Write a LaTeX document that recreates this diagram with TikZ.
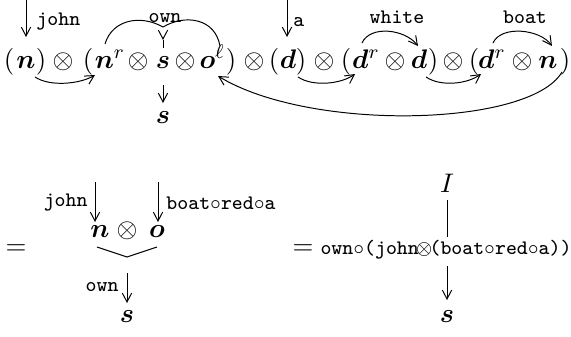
\documentclass[tikz,border=0pt]{standalone}
\usepackage{amsmath,amssymb,bm}
\usepackage{mathtools}
\usepackage{fontspec}
\usetikzlibrary{arrows.meta,calc}
\newcommand\mycirc{\makebox[0.525em]{$\circ$}}
\newcommand\myotimes{\makebox[0.525em]{$\otimes$}}
\tikzset{
  sym/.style={inner sep=0pt, anchor=base, font=\fontsize{11}{13}\selectfont},
  lbl/.style={font=\fontsize{8.4}{10}\ttfamily, inner sep=0pt},
  tip/.style={-{Straight Barb[length=3.6pt,width=3.8pt]}},
}
\begin{document}
\begin{tikzpicture}[x=0.408pt,y=-0.408pt,line width=0.4pt]
\useasboundingbox (0,0) rectangle (571,336);
% ---------- top row ----------
\node[sym] (lp1) at (9,68) {$($};
\node[sym] (n1) at (26,68) {$\boldsymbol{n}$};
\node[sym] (rp1) at (41,68) {$)$};
\node[sym] (ot1) at (63,68) {$\otimes$};
\node[sym] (lp2) at (88,68) {$($};
\node[sym] (nr) at (105,68) {$\boldsymbol{n}^{\mathrlap{r}}$};
\node[sym] (ot2) at (138,68) {$\otimes$};
\node[sym] (s1) at (163,68) {$\boldsymbol{s}$};
\node[sym] (ot3) at (185,68) {$\otimes$};
\node[sym] (ol) at (208,68) {$\boldsymbol{o}^{\mathrlap{\ell}}$};
\node[sym] (rp2) at (231,68) {$)$};
\node[sym] (ot4) at (254,68) {$\otimes$};
\node[sym] (lp3) at (274,68) {$($};
\node[sym] (d1) at (288,68) {$\boldsymbol{d}$};
\node[sym] (rp3) at (301,68) {$)$};
\node[sym] (ot5) at (324,68) {$\otimes$};
\node[sym] (lp4) at (346,68) {$($};
\node[sym] (dr1) at (361,68) {$\boldsymbol{d}^{\mathrlap{r}}$};
\node[sym] (ot6) at (395,68) {$\otimes$};
\node[sym] (d2) at (419,68) {$\boldsymbol{d}$};
\node[sym] (rp4) at (433,68) {$)$};
\node[sym] (ot7) at (453,68) {$\otimes$};
\node[sym] (lp5) at (474,68) {$($};
\node[sym] (dr2) at (487,68) {$\boldsymbol{d}^{\mathrlap{r}}$};
\node[sym] (ot8) at (522,68) {$\otimes$};
\node[sym] (n2) at (548,68) {$\boldsymbol{n}$};
\node[sym] (rp5) at (565,68) {$)$};
% word inputs
\coordinate (johntop) at (26,0);
\coordinate (johnend) at (26,37);
\draw[tip] (johntop) -- (johnend);
\node[lbl, anchor=west] (johnlbl) at (36,22) {john};
\coordinate (atop) at (287,0);
\coordinate (aend) at (287,37);
\draw[tip] (atop) -- (aend);
\node[lbl, anchor=west] (albl) at (293,22) {a};
% own
\node[lbl] (ownlbl) at (165,18) {own};
\coordinate (ownjoin) at (163,27);
\coordinate (owntipA) at (163,37);
\coordinate (owntipB) at (163,40);
\coordinate (ownstem) at (163,48);
\draw (105,44) .. controls (112,20) and (140,14) .. (ownjoin);
\draw (220,46) .. controls (215,18) and (185,14) .. (ownjoin);
\draw[tip] (owntipA) -- (owntipB);
\draw (owntipB) -- (ownstem);
% s output
\coordinate (sout) at (163,85);
\node[sym] (s2) at (163,123) {$\boldsymbol{s}$};
\draw[tip] (sout) -- (163,103);
% white / boat
\node[lbl] (whitelbl) at (397,17) {white};
\node[lbl] (boatlbl) at (525,17) {boat};
\draw[tip] (362,43) .. controls (370,25) and (405,29) .. (418,46);
\draw[tip] (493,43) .. controls (501,25) and (540,29) .. (552,46);
% cups below
\draw[tip] (35,77) .. controls (50,87) and (80,84) .. (95,75);
\draw[tip] (298,77) .. controls (313,87) and (341,84) .. (355,74);
\draw[tip] (426,77) .. controls (441,87) and (467,84) .. (481,74);
\draw[tip] (562,72) .. controls (530,127) and (310,132) .. (218,76);
% ---------- bottom left ----------
\node[sym] (eq1) at (16,254) {$=$};
\node[sym] (n3) at (100,237) {$\boldsymbol{n}$};
\node[sym] (ot9) at (127,237) {$\otimes$};
\node[sym] (o3) at (157,237) {$\boldsymbol{o}$};
\coordinate (j2top) at (95,182);
\coordinate (j2end) at (95,222);
\draw[tip] (j2top) -- (j2end);
\node[lbl, anchor=east] (john2) at (88,203) {john};
\coordinate (b2top) at (158,182);
\coordinate (b2end) at (158,222);
\draw[tip] (b2top) -- (b2end);
\node[lbl, anchor=west] (boat2) at (166,203) {boat\mycirc red\mycirc a};
\coordinate (vl) at (97,247);
\coordinate (vm) at (127,257);
\coordinate (vr) at (157,247);
\draw (vl) -- (vm) -- (vr);
\coordinate (o2top) at (127,273);
\node[sym] (s3) at (127,322) {$\boldsymbol{s}$};
\draw[tip] (o2top) -- (127,303);
\node[lbl, anchor=east] (own2) at (119,287) {own};
% ---------- bottom right ----------
\node[sym] (eq2) at (303,254) {$=$};
\node[sym] (I) at (447,192) {$I$};
\node[lbl, anchor=base] (expr) at (446,254) {own\mycirc(john\myotimes(boat\mycirc red\mycirc a))};
\draw (447,200) -- (447,237);
\node[sym] (s4) at (447,322) {$\boldsymbol{s}$};
\draw[tip] (447,266) -- (447,300);
\end{tikzpicture}
\end{document}
